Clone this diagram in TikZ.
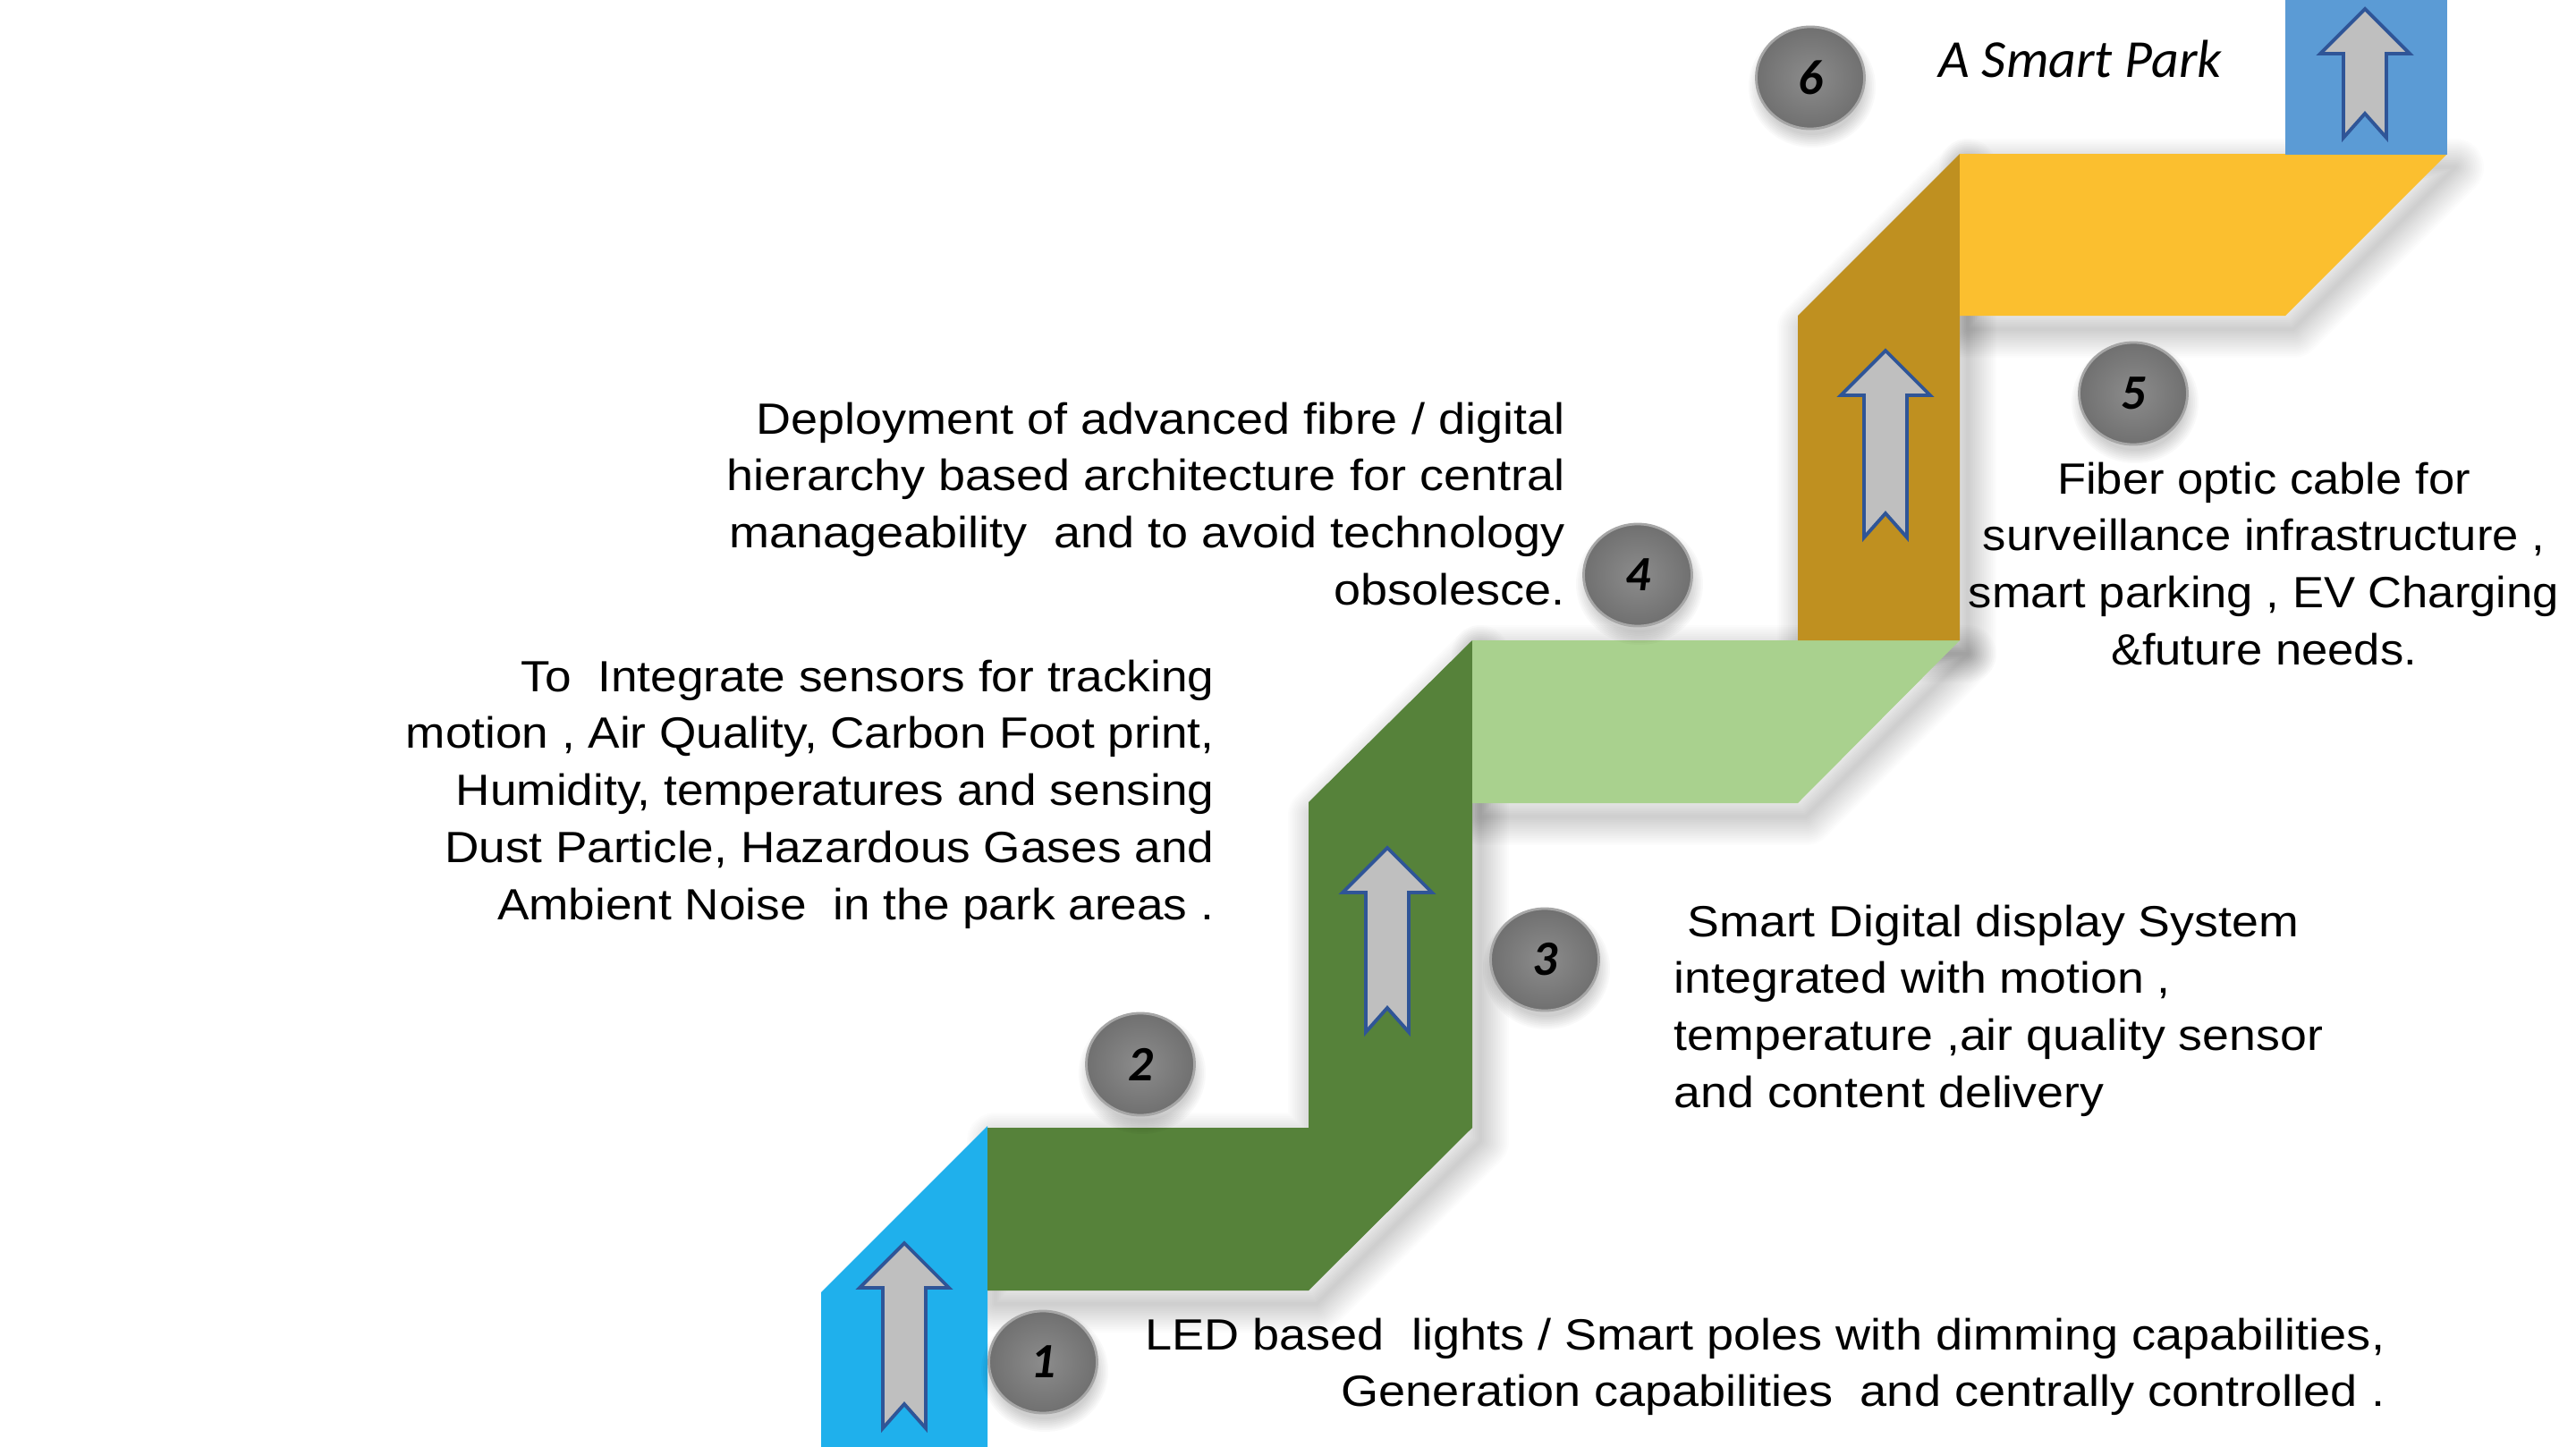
\documentclass[tikz,border=0pt]{standalone}
\usepackage{fontspec}
\setmainfont{Liberation Sans}
\newfontfamily\numfont{Carlito}
\usepackage{graphicx}
\usetikzlibrary{shapes.geometric}
\definecolor{blueA}{HTML}{1FB0EC}
\definecolor{greenD}{HTML}{56823A}
\definecolor{greenL}{HTML}{A9D18E}
\definecolor{goldD}{HTML}{BF9020}
\definecolor{yellowA}{HTML}{FBBF2F}
\definecolor{blueT}{HTML}{5B9BD5}
\definecolor{arrFill}{HTML}{BFBFBF}
\definecolor{arrLine}{HTML}{2F5597}
\definecolor{badgeIn}{HTML}{8C8C8C}
\definecolor{badgeOut}{HTML}{707070}
\definecolor{badgeRim}{HTML}{A6A6A6}
\newcommand{\txtblock}[3]{\resizebox{#1}{\height}{\begin{tabular}[t]{@{}#2@{}}#3\end{tabular}}}
\tikzset{
  arrowsty/.style={fill=arrFill, draw=arrLine, line width=1.1pt, line join=miter},
  pics/uparrow/.style={code={
    \draw[arrowsty] (0,0) -- (50,50) -- (24,50) -- (24,#1) -- (0,{#1-27}) -- (-24,#1) -- (-24,50) -- (-50,50) -- cycle;
  }},
  badge/.style={ellipse, minimum width=1.21cm, minimum height=1.14cm, inner sep=0pt,
    inner color=badgeIn, outer color=badgeOut, draw=badgeRim, line width=0.8pt,
    font=\numfont\bfseries\itshape\fontsize{15.7pt}{18pt}\selectfont, text=black},
  txt/.style={inner sep=0pt, font=\fontsize{13.9pt}{18.14pt}\selectfont, text=black},
  shadowlayer/.style={draw=black, draw opacity=0.012, line join=round}
}
\def\pBlueA{(918,1618) -- (918,1445) -- (1104,1259) -- (1104,1618) -- cycle}
\def\pGreen{(1104,1261) -- (1463,1261) -- (1463,897) -- (1646,716) -- (1646,1261) -- (1463,1443) -- (1104,1443) -- cycle}
\def\pGreenL{(1646,716) -- (2191,716) -- (2010,898) -- (1646,898) -- cycle}
\def\pGold{(2010,716) -- (2010,353) -- (2191,172) -- (2191,716) -- cycle}
\def\pYellow{(2191,172) -- (2736,172) -- (2555,353) -- (2191,353) -- cycle}
\def\pBlueT{(2555,0) rectangle (2736,173)}
\begin{document}
\begin{tikzpicture}
\begin{scope}[x=0.01cm, y=-0.01cm]
\useasboundingbox (0,0) rectangle (2880,1618);
\fill[white] (0,0) rectangle (2880,1618);
% soft shadows
\begin{scope}[shift={(9,15)}]
\foreach \w in {4,8,...,64} {
  \draw[shadowlayer, line width=\w*0.01cm] \pGreen;
  \draw[shadowlayer, line width=\w*0.01cm] \pGreenL;
  \draw[shadowlayer, line width=\w*0.01cm] \pGold;
  \draw[shadowlayer, line width=\w*0.01cm] \pYellow;
}
\end{scope}
% ribbon
\fill[blueA] \pBlueA;
\fill[greenD] \pGreen;
\fill[greenL] \pGreenL;
\fill[goldD] \pGold;
\fill[yellowA] \pYellow;
\fill[blueT] \pBlueT;
% arrows
\pic at (1011,1390) {uparrow=207};
\pic at (1551,948) {uparrow=206};
\pic at (2108,392) {uparrow=209};
\pic at (2644,10) {uparrow=144};
% badge shadows
\foreach \cx/\cy in {1166/1523, 1275/1190, 1727/1073, 1831/643, 2385/440, 2024/87} {
  \foreach \r in {0,2,...,14} {
    \fill[black, opacity=0.022] (\cx+2,\cy+10) ellipse [x radius=57+\r, y radius=54+\r];
  }
}
% badges
\node[badge] (b1) at (1166,1523) {1};
\node[badge] (b2) at (1275,1190) {2};
\node[badge] (b3) at (1727,1073) {3};
\node[badge] (b4) at (1831,643) {4};
\node[badge] (b5) at (2385,440) {5};
\node[badge] (b6) at (2024,87) {6};
% texts
\node[txt, anchor=base east] (t1) at (2667,1509) {\txtblock{13.85cm}{r}{LED based~ lights / Smart poles with dimming capabilities,\\ Generation capabilities~ and centrally controlled .}};
\node[txt, anchor=base east] (t2) at (1358,773) {\txtblock{9.03cm}{r}{To~ Integrate sensors for tracking\\ motion , Air Quality, Carbon Foot print,\\ Humidity, temperatures and sensing\\ Dust Particle, Hazardous Gases and\\ Ambient Noise~ in the park areas .}};
\node[txt, anchor=base east] (t3) at (1750,485) {\txtblock{9.36cm}{r}{Deployment of advanced fibre / digital\\ hierarchy based architecture for central\\ manageability~ and to avoid technology\\ obsolesce.}};
\node[txt, anchor=base west] (t4) at (1871,1047) {\txtblock{7.25cm}{l}{~Smart Digital display System\\ integrated with motion ,\\ temperature ,air quality sensor\\ and content delivery}};
\node[txt, anchor=base] (t5) at (2531,552) {\txtblock{6.6cm}{c}{Fiber optic cable for\\ surveillance infrastructure ,\\ smart parking , EV Charging\\ \&future needs.}};
\node[txt, anchor=base west] (t6) at (2167,87) {\resizebox{3.16cm}{\height}{\numfont\itshape\fontsize{17pt}{20pt}\selectfont A Smart Park}};
\end{scope}
\end{tikzpicture}
\end{document}
